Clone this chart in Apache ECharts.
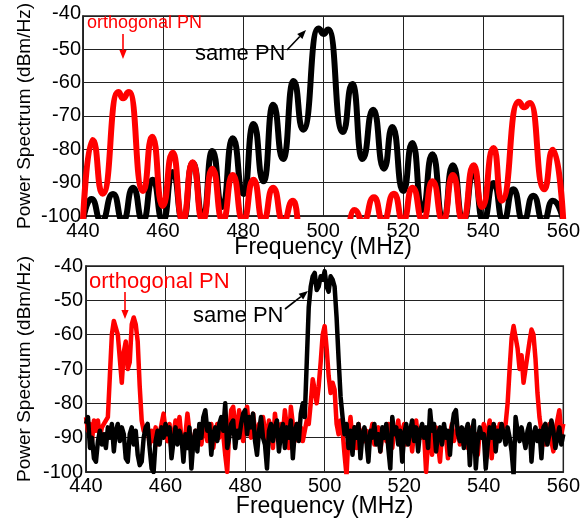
<!DOCTYPE html>
<html>
<head>
<meta charset="utf-8">
<script src="https://cdn.jsdelivr.net/npm/echarts@6/dist/echarts.min.js"></script>
<style>
html,body{margin:0;padding:0;background:#fff;}
#chart{width:583px;height:521px;}
</style>
</head>
<body>
<div id="chart"></div>
<script>
// ---------- axis ticks ----------
const xTicks = {min: 440, max: 560, interval: 20};
const yTicks = {min: -100, max: -40, interval: 10};

// ---------- top panel: peaks / nulls [MHz, dBm/Hz] ----------
const topSamePN = [
  [440, -101.5], [442.1, -94.9], [444.6, -101.5], [447.5, -93.4], [450, -101.5], [452.5, -91.5],
  [455, -101.5], [457.4, -89.1], [460, -101.5], [462.4, -86.8], [465, -101.5], [467.4, -84],
  [470, -100.5], [472.3, -80.5], [474.8, -97.3], [477.4, -76.7], [480.1, -93.4], [482.6, -72.4],
  [485.1, -89.6], [487.5, -66.6], [490, -82.9], [492.6, -59.5], [495, -74.1],
  [498.8, -43.8], [500.1, -45.4], [501.3, -44.1], [504.9, -74.8], [507.3, -60.4],
  [509.8, -82.9], [512.5, -68.1], [515.2, -85.8], [517.3, -73.3], [520, -92.5], [522.3, -78.1],
  [524.8, -98.2], [527.3, -81.5], [530, -101.5], [532.4, -84.8], [535, -101.5], [537.6, -86.8],
  [540, -101.5], [542.6, -90.1], [545, -101.5], [547.5, -92], [550, -101.5], [552.5, -93.9],
  [555, -101.5], [557.4, -95.4], [560, -101.5]
];
const topOrthoPN = [
  [440, -101.5], [442.4, -77.2], [444.9, -93.3], [448.8, -62.8], [450, -64.7],
  [451.5, -62.8], [455, -92.5], [457.3, -76.2], [459.9, -97], [462.4, -81],
  [464.9, -101.5], [467.4, -83.9], [469.9, -101.5], [472.3, -85.8], [474.9, -101.5], [477.4, -87.7],
  [480, -101.5], [482.6, -89.1], [485, -101.5], [487.5, -91.5], [490, -101.5], [492.5, -95.4],
  [495, -112], [505, -112], [507.8, -98.2], [510, -101.5], [512.7, -94.4], [515, -101.5],
  [517.7, -93.3], [520, -101.5], [522.3, -91.5], [525, -101.5], [527.3, -89.6], [530, -101.5],
  [532.4, -87.7], [534.9, -101.5], [537.6, -84.8], [539.7, -97.3], [542.6, -79.6], [544.6, -95.4],
  [548.8, -65.7], [550.2, -67.4], [551.7, -66.1], [555.2, -92],
  [557.4, -80.1], [560, -101.5]
];

// ---------- bottom panel: measured spectra, one value every 0.5 MHz from 440 MHz ----------
const bottomStart = 440;
const bottomStep = 0.5;
const bottomOrthoPN = [
  -84, -88, -86, -91, -85, -88, -85, -90, -87, -86,
  -86, -84, -72, -60, -56, -56, -60, -67, -74, -65,
  -62, -70, -68, -57, -55, -57, -62, -75, -85, -88,
  -88, -87, -92, -88, -91, -87, -92, -89, -86, -83,
  -88, -91, -86, -94, -89, -85, -88, -84, -90, -92,
  -89, -83, -88, -94, -91, -88, -90, -87, -92, -88,
  -85, -91, -88, -86, -93, -89, -86, -90, -87, -89,
  -95, -100, -88, -82, -81, -86, -89, -82, -86, -91,
  -84, -81, -88, -90, -83, -88, -92, -86, -89, -84,
  -88, -91, -85, -89, -93, -83, -88, -90, -86, -89,
  -82, -87, -93, -81, -86, -91, -86, -89, -87, -91,
  -88, -85, -86, -80, -73, -76, -80, -75, -68, -60,
  -57.5, -64, -72, -77, -74, -76, -86, -89, -85, -88,
  -95, -101, -89, -84, -91, -87, -93, -86, -90, -88,
  -91, -88, -93, -89, -86, -92, -89, -87, -94, -89,
  -88, -91, -86, -90, -93, -88, -89, -85, -91, -88,
  -86, -92, -89, -88, -94, -88, -85, -91, -88, -90,
  -89, -100, -91, -88, -95, -90, -87, -92, -97, -89,
  -88, -90, -96, -89, -86, -91, -89, -87, -92, -89,
  -90, -88, -93, -89, -87, -91, -89, -95, -88, -90,
  -86, -92, -88, -85, -96, -89, -87, -91, -86, -89,
  -87, -86, -80, -70, -61, -57.5, -58, -64, -70, -66,
  -74, -70, -66, -62, -58.5, -60, -67, -77, -84, -88,
  -87, -92, -89, -86, -91, -94, -88, -85, -82, -89,
  -86
];
const bottomSamePN = [
  -86, -84, -93, -90, -96, -97, -91, -88, -92, -89,
  -93, -87, -90, -86, -94, -88, -86, -91, -87, -89,
  -96, -97, -89, -87, -92, -88, -95, -98, -97, -90,
  -87, -86, -93, -99, -100, -91, -88, -92, -87, -90,
  -86, -89, -87, -96, -91, -87, -92, -88, -90, -97,
  -89, -93, -87, -99, -91, -88, -94, -86, -90, -84,
  -82, -88, -86, -95, -89, -87, -91, -86, -84, -88,
  -80, -93, -90, -86, -85, -93, -88, -90, -86, -83,
  -82, -89, -84, -87, -83, -91, -95, -88, -84, -90,
  -92, -99, -88, -86, -91, -87, -85, -94, -89, -86,
  -93, -87, -90, -85, -96, -88, -86, -91, -83, -80,
  -84, -68, -52, -46, -43, -42, -47, -46, -43, -44,
  -41.5, -46, -47.5, -43, -44, -46, -55, -67, -78, -84,
  -89, -86, -93, -88, -95, -87, -90, -86, -96, -89,
  -87, -91, -97, -88, -90, -86, -92, -89, -94, -87,
  -90, -86, -93, -99, -84, -89, -87, -92, -88, -97,
  -89, -86, -92, -88, -85, -91, -87, -94, -88, -86,
  -90, -87, -93, -82, -88, -86, -94, -89, -87, -92,
  -86, -90, -88, -95, -87, -83, -82, -89, -91, -87,
  -93, -88, -86, -98, -89, -85, -99, -91, -87, -90,
  -89, -99, -92, -87, -90, -86, -94, -88, -91, -86,
  -89, -92, -87, -90, -94, -101, -84, -88, -91, -87,
  -90, -93, -88, -86, -97, -89, -87, -91, -88, -96,
  -87, -86, -92, -89, -85, -88, -93, -90, -87, -92,
  -89
];

// ---------- labels ----------
const xName = 'Frequency (MHz)';
const yName = 'Power Spectrum (dBm/Hz)';
const labelOrtho = 'orthogonal PN';
const labelSame = 'same PN';

const RED = '#ff0000', BLACK = '#000000';
const FONT = '"Liberation Sans", Arial, sans-serif';

function pairs(vals) {
  return vals.map((v, i) => [bottomStart + i * bottomStep, v]);
}

function xAxisCfg(gridIndex, margin, gap) {
  return {
    gridIndex, type: 'value', min: xTicks.min, max: xTicks.max, interval: xTicks.interval,
    axisLine: {show: true, onZero: false, lineStyle: {color: '#222', width: 1.5}},
    axisTick: {show: false},
    axisLabel: {color: '#000', fontSize: 20, fontFamily: FONT, margin: margin},
    splitLine: {show: true, lineStyle: {color: '#222', width: 1}},
    name: xName, nameLocation: 'middle', nameGap: gap, nameMoveOverlap: false,
    nameTextStyle: {color: '#000', fontSize: 23, fontFamily: FONT}
  };
}
function yAxisCfg(gridIndex, margin, gap, shiftTop) {
  return {
    gridIndex, type: 'value', min: yTicks.min, max: yTicks.max, interval: yTicks.interval,
    axisLine: {show: true, lineStyle: {color: '#222', width: 1.5}},
    axisTick: {show: false},
    axisLabel: {
      color: '#000', fontSize: 20, fontFamily: FONT, margin: margin,
      formatter: function (v) { return (shiftTop && v === yTicks.max) ? '{t|' + v + '}' : String(v); },
      rich: {t: {fontSize: 20, fontFamily: FONT, color: '#000', padding: [0, 0, 4, 0]}}
    },
    splitLine: {show: true, lineStyle: {color: '#222', width: 1}},
    name: yName, nameLocation: 'middle', nameGap: gap, nameRotate: 90, nameMoveOverlap: false,
    nameTextStyle: {color: '#000', fontSize: 19, fontFamily: FONT}
  };
}

function arrow(x1, y1, x2, y2, color, head) {
  const dx = x2 - x1, dy = y2 - y1, L = Math.hypot(dx, dy);
  const ux = dx / L, uy = dy / L, px = -uy, py = ux;
  const bx = x2 - ux * head, by = y2 - uy * head;
  return [
    {type: 'line', shape: {x1, y1, x2: bx, y2: by}, style: {stroke: color, lineWidth: 1.6}, z: 100},
    {type: 'polygon', shape: {points: [[x2, y2], [bx + px * head * 0.4, by + py * head * 0.4], [bx - px * head * 0.4, by - py * head * 0.4]]},
      style: {fill: color}, z: 100}
  ];
}

const chart = echarts.init(document.getElementById('chart'), null, {renderer: 'canvas'});
chart.setOption({
  backgroundColor: '#fff',
  animation: false,
  grid: [
    {left: 83, top: 7, width: 484, height: 209, show: true, borderColor: '#222', borderWidth: 1.5, backgroundColor: 'transparent'},
    {left: 86, top: 266, width: 483, height: 206, show: true, borderColor: '#222', borderWidth: 1.5, backgroundColor: 'transparent'}
  ],
  xAxis: [xAxisCfg(0, 5, 20), xAxisCfg(1, 4, 23)],
  yAxis: [yAxisCfg(0, 2, 49, true), yAxisCfg(1, 3, 52, false)],
  series: [
    {type: 'line', xAxisIndex: 0, yAxisIndex: 0, data: topSamePN, smooth: 0.6, smoothMonotone: 'x', showSymbol: false,
      lineStyle: {color: BLACK, width: 6}, clip: true, z: 2},
    {type: 'line', xAxisIndex: 0, yAxisIndex: 0, data: topOrthoPN, smooth: 0.6, smoothMonotone: 'x', showSymbol: false,
      lineStyle: {color: RED, width: 6}, clip: true, z: 3},
    {type: 'line', xAxisIndex: 1, yAxisIndex: 1, data: pairs(bottomOrthoPN), showSymbol: false,
      lineStyle: {color: RED, width: 4.5, join: 'round'}, clip: true, z: 2},
    {type: 'line', xAxisIndex: 1, yAxisIndex: 1, data: pairs(bottomSamePN), showSymbol: false,
      lineStyle: {color: BLACK, width: 4.5, join: 'round'}, clip: true, z: 3}
  ],
  graphic: [
    {type: 'text', left: 87, top: 14, style: {text: labelOrtho, fill: RED, font: '18px ' + FONT}, z: 100},
    ...arrow(123, 34, 123, 59, RED, 9),
    {type: 'text', left: 195, top: 43, style: {text: labelSame, fill: BLACK, font: '22px ' + FONT}, z: 100},
    ...arrow(287, 50, 306, 30, BLACK, 9),
    {type: 'text', left: 89, top: 271, style: {text: labelOrtho, fill: RED, font: '22px ' + FONT}, z: 100},
    ...arrow(125, 292, 125, 319, RED, 9),
    {type: 'text', left: 193, top: 305, style: {text: labelSame, fill: BLACK, font: '22px ' + FONT}, z: 100},
    ...arrow(285, 309, 308, 291, BLACK, 9)
  ]
});
</script>
</body>
</html>
